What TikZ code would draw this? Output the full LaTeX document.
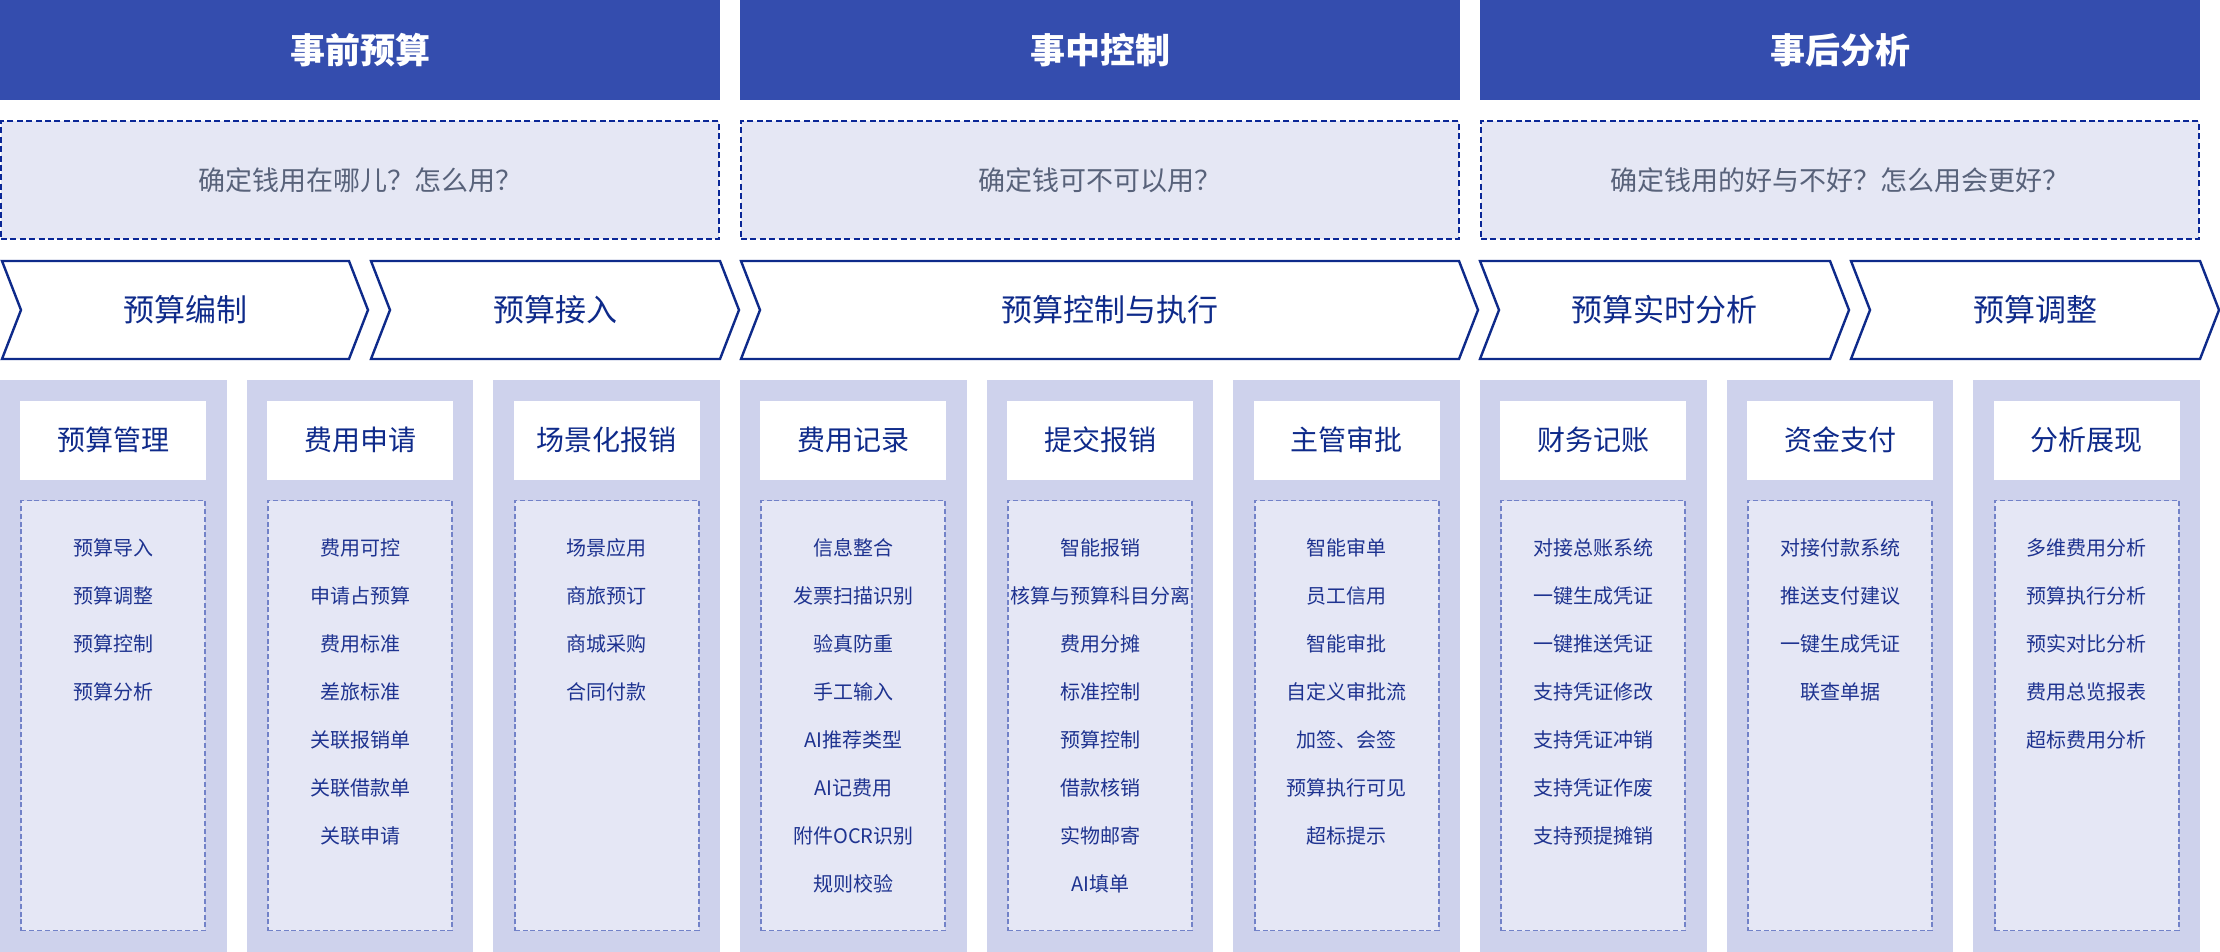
\documentclass[tikz,border=0pt]{standalone}
\usepackage{fontspec}
\setmainfont{Noto Sans CJK SC}
\usetikzlibrary{positioning}

\definecolor{phaseblue}{HTML}{344DAE}
\definecolor{askfill}{HTML}{E5E7F4}
\definecolor{asknavy}{HTML}{0A2796}
\definecolor{asktext}{HTML}{58627A}
\definecolor{chevnavy}{HTML}{0E2A8A}
\definecolor{lanefill}{HTML}{CED2EC}
\definecolor{boxfill}{HTML}{E5E7F5}
\definecolor{boxline}{HTML}{7282C8}
\definecolor{itemtext}{HTML}{1E3390}

% one step of the budget flow: name, left x, tip x, label
\newcommand\budgetstep[4]{%
  \draw[chev] (#2,261) -- (#3-19,261) -- (#3,310) -- (#3-19,359) -- (#2,359) -- (#2+19,310) -- cycle;
  \node[chevlabel] (#1) at ({(#2+#3)/2},310) {#4};}

\begin{document}
\begin{tikzpicture}[x=0.5pt, y=-0.5pt,
    phase/.style={fill=phaseblue, text=white, inner sep=0pt, minimum width=360pt, minimum height=50pt, font=\fontsize{17.5}{21}\selectfont\bfseries},
    ask/.style={fill=askfill, draw=asknavy, line width=1pt, dash pattern=on 3pt off 1.7pt, text=asktext, inner sep=0pt, minimum width=359pt, minimum height=59pt, font=\fontsize{13.5}{16}\selectfont},
    chev/.style={fill=white, draw=chevnavy, line width=1.2pt},
    chevlabel/.style={text=chevnavy, font=\fontsize{15.5}{19}\selectfont},
    lane/.style={fill=lanefill, inner sep=0pt, minimum width=113.33pt, minimum height=286pt},
    lanetitle/.style={fill=white, text=chevnavy, inner sep=0pt, minimum width=93pt, minimum height=39.5pt, font=\fontsize{14}{17}\selectfont},
    itembox/.style={fill=boxfill, draw=boxline, line width=0.85pt, dash pattern=on 2.5pt off 1.4pt, inner sep=0pt, minimum width=92pt, minimum height=215pt},
    item/.style={text=itemtext, inner sep=0pt, font=\fontsize{10}{12}\selectfont}]
  \useasboundingbox (0,0) rectangle (2220,952);

  % Phases
  \node[phase] (P1) at (360,50) {事前预算};
  \node[phase] (P2) at (1100,50) {事中控制};
  \node[phase] (P3) at (1840,50) {事后分析};

  % Questions
  \node[ask] (Q1) at (360,180) {确定钱用在哪儿？怎么用？};
  \node[ask] (Q2) at (1100,180) {确定钱可不可以用？};
  \node[ask] (Q3) at (1840,180) {确定钱用的好与不好？怎么用会更好？};

  % Flow steps
  \budgetstep{S1}{2}{368}{预算编制}
  \budgetstep{S2}{371}{739}{预算接入}
  \budgetstep{S3}{741}{1478}{预算控制与执行}
  \budgetstep{S4}{1480}{1849}{预算实时分析}
  \budgetstep{S5}{1851}{2219}{预算调整}

  % Lanes with their functions
  \foreach \cx/\ttl/\items [count=\i] in {
      113.3/预算管理/{预算导入,预算调整,预算控制,预算分析},
      360/费用申请/{费用可控,申请占预算,费用标准,差旅标准,关联报销单,关联借款单,关联申请},
      606.7/场景化报销/{场景应用,商旅预订,商城采购,合同付款},
      853.3/费用记录/{信息整合,发票扫描识别,验真防重,手工输入,AI推荐类型,AI记费用,附件OCR识别,规则校验},
      1100/提交报销/{智能报销,核算与预算科目分离,费用分摊,标准控制,预算控制,借款核销,实物邮寄,AI填单},
      1346.7/主管审批/{智能审单,员工信用,智能审批,自定义审批流,加签、会签,预算执行可见,超标提示},
      1593.3/财务记账/{对接总账系统,一键生成凭证,一键推送凭证,支持凭证修改,支持凭证冲销,支持凭证作废,支持预提摊销},
      1840/资金支付/{对接付款系统,推送支付建议,一键生成凭证,联查单据},
      2086.7/分析展现/{多维费用分析,预算执行分析,预实对比分析,费用总览报表,超标费用分析}} {
    \node[lane] (L\i) at (\cx,666) {};
    \node[lanetitle] (T\i) at (\cx,440) {\ttl};
    \node[itembox] (B\i) at (\cx,715.5) {};
    \foreach \it [count=\k] in \items
      \node[item] (I\i-\k) at (\cx,{548+48*(\k-1)}) {\it};
  }
\end{tikzpicture}
\end{document}
